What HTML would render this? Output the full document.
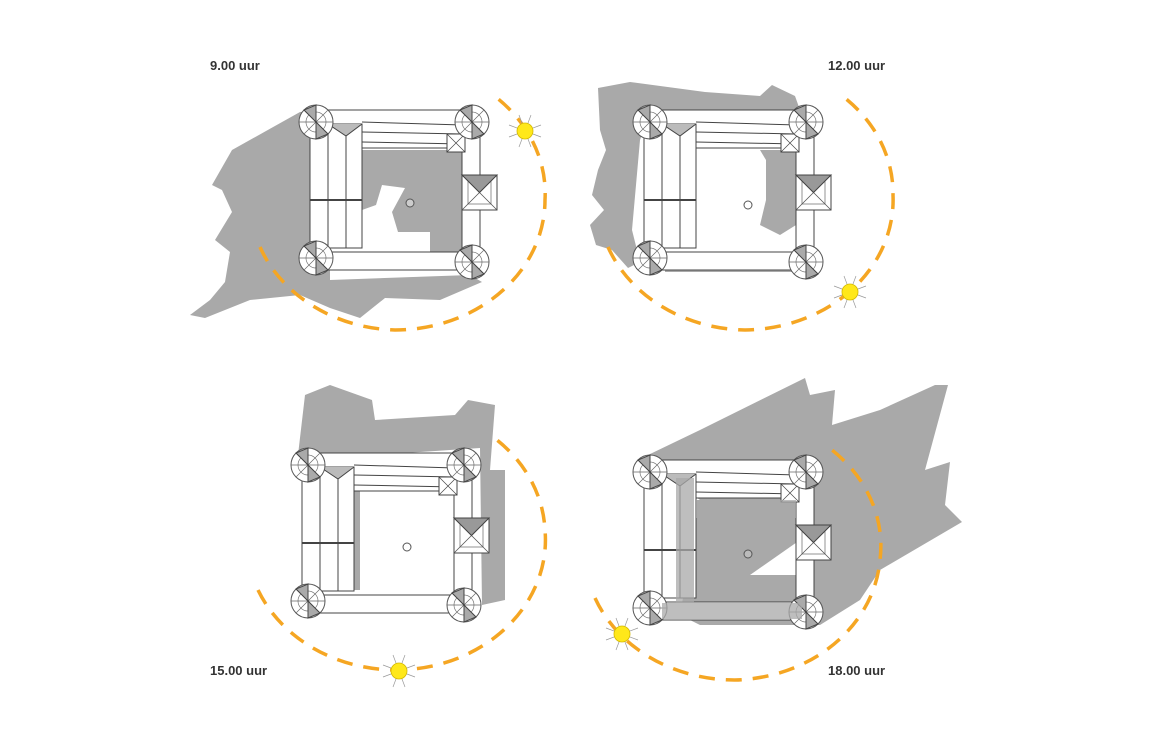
<!DOCTYPE html>
<html><head><meta charset="utf-8"><style>
html,body{margin:0;padding:0;background:#fff;}
svg{display:block;}
text{font-family:"Liberation Sans",sans-serif;font-weight:bold;font-size:13px;fill:#333;}
</style></head><body>
<svg width="1170" height="731" viewBox="0 0 1170 731" xmlns="http://www.w3.org/2000/svg">
<defs>
<g id="tower">
  <circle r="17" fill="#fff" stroke="#555" stroke-width="1"/>
  <circle r="10" fill="none" stroke="#777" stroke-width="0.7"/>
  <path d="M0 0L0 -17M0 0L12 -12M0 0L17 0M0 0L12 12M0 0L0 17M0 0L-12 12M0 0L-17 0M0 0L-12 -12" stroke="#666" stroke-width="0.7"/>
  <path d="M0 0L-12 -12L0 -17Z M0 0L12 12L0 17Z" fill="#aaa"/>
</g>
<g id="sq">
  <rect x="0" y="0" width="35" height="35" fill="#fff" stroke="#444"/>
  <rect x="6" y="6" width="23" height="23" fill="none" stroke="#666" stroke-width="0.7"/>
  <path d="M0 0L35 35M35 0L0 35" stroke="#555" stroke-width="0.8"/>
  <path d="M17.5 17.5L0 0L35 0Z" fill="#999"/>
</g>
<g id="castle" stroke="#444" stroke-width="1">
  <rect x="12" y="-12" width="135" height="38" fill="#fff"/>
  <line x1="46" y1="0" x2="147" y2="3"/><line x1="46" y1="10" x2="147" y2="12"/><line x1="46" y1="20" x2="147" y2="22"/>
  <rect x="146" y="14" width="18" height="122" fill="#fff"/>
  <rect x="10" y="130" width="142" height="18" fill="#fff"/>
  <rect x="-6" y="2" width="52" height="124" fill="#fff"/>
  <line x1="12" y1="2" x2="12" y2="126"/><line x1="30" y1="2" x2="30" y2="126"/>
  <line x1="-6" y1="78" x2="46" y2="78" stroke-width="2"/>
  <path d="M12 2L30 14L46 2" fill="#bbb"/>
  <use href="#sq" x="146" y="53"/>
  <rect x="131" y="12" width="18" height="18" fill="#fff"/>
  <path d="M131 12L149 30M149 12L131 30" stroke-width="0.7"/>
  <use href="#tower" x="0" y="0"/>
  <use href="#tower" x="156" y="0"/>
  <use href="#tower" x="0" y="136"/>
  <use href="#tower" x="156" y="140"/>
</g>
<g id="sun">
  <path d="M-6 -16L6 16M6 -16L-6 16M-16 -6L16 6M16 -6L-16 6" stroke="#999" stroke-width="0.7"/>
  <circle r="8" fill="#ffe81a" stroke="#d4b800" stroke-width="0.8"/>
</g>
</defs>

<g fill="#a9a9a9">
  <polygon points="300,112 330,110 330,280 470,275 482,282 440,300 385,298 360,318 330,308 300,295 250,300 205,318 190,315 210,300 225,282 230,252 215,240 232,212 222,190 212,185 232,150"/>
  <polygon points="362,150 462,150 462,252 430,252 430,232 398,232 392,212 405,188 382,185 376,205 362,210"/>
  <polygon points="598,88 630,82 705,92 760,96 772,85 795,96 800,110 650,112 640,140 632,230 640,262 628,268 612,250 596,245 590,225 604,210 592,195 598,170 606,150 600,130"/>
  <polygon points="760,150 796,150 796,225 780,235 760,225 766,200 766,160"/>
  <polygon points="665,262 800,262 800,272 665,272"/>
  <polygon points="298,455 305,395 330,385 372,400 375,420 455,415 468,400 495,405 490,470 505,470 505,600 482,605 480,448 300,460"/>
  <polygon points="345,475 360,475 360,590 345,590"/>
  <polygon points="648,455 700,430 805,378 810,395 835,390 832,425 880,410 935,385 948,385 925,470 950,462 945,505 962,522 880,570 860,600 820,625 700,625 680,615 700,500 660,470"/>
  <polygon points="696,500 796,500 796,560 750,575 796,575 796,602 696,602"/>
</g>
<polygon points="750,575 800,540 800,575" fill="#fff"/>

<use href="#castle" x="316" y="122"/>
<use href="#castle" x="650" y="122"/>
<use href="#castle" x="308" y="465"/>
<use href="#castle" x="650" y="472"/>
<g fill="#a9a9a9" opacity="0.75">
  <rect x="696" y="500" width="100" height="18"/>
  <rect x="676" y="478" width="18" height="125"/>
  <rect x="662" y="603" width="140" height="16"/>
</g>
<circle cx="410" cy="203" r="4" fill="#ccc" stroke="#555"/>
<circle cx="748" cy="205" r="4" fill="#fff" stroke="#555"/>
<circle cx="407" cy="547" r="4" fill="#fff" stroke="#555"/>
<circle cx="748" cy="554" r="4" fill="#bbb" stroke="#555"/>

<g fill="none" stroke="#f5a623" stroke-width="3.5" stroke-dasharray="16 11">
  <path d="M260 247 A150 130 0 0 0 395 330 A150 130 0 0 0 545 200 A150 130 0 0 0 497 98"/>
  <path d="M608 247 A150 130 0 0 0 745 330 A150 130 0 0 0 893 195 A150 130 0 0 0 845 98"/>
  <path d="M258 590 A150 130 0 0 0 395 670 A150 130 0 0 0 545 530 A150 130 0 0 0 497 440"/>
  <path d="M595 598 A150 130 0 0 0 735 680 A150 130 0 0 0 880 560 A150 130 0 0 0 832 450"/>
</g>
<use href="#sun" x="525" y="131"/>
<use href="#sun" x="850" y="292"/>
<use href="#sun" x="399" y="671"/>
<use href="#sun" x="622" y="634"/>

<text x="210" y="70">9.00 uur</text>
<text x="828" y="70">12.00 uur</text>
<text x="210" y="675">15.00 uur</text>
<text x="828" y="675">18.00 uur</text>
</svg>
</body></html>
